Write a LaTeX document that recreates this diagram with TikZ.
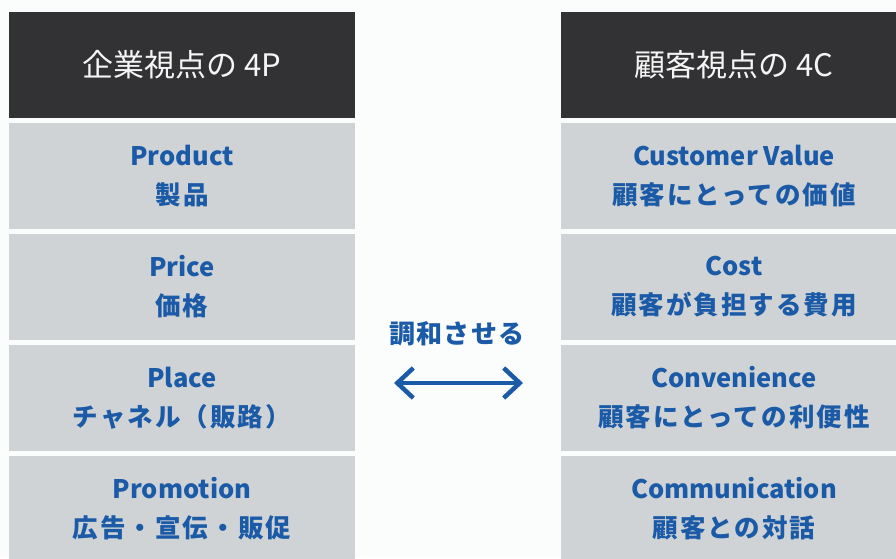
\documentclass[tikz,border=0pt]{standalone}
\usepackage{fontspec}
\setmainfont{Noto Sans CJK JP}
\usetikzlibrary{arrows.meta}
\definecolor{bg}{HTML}{FBFCFC}
\definecolor{hdr}{HTML}{323234}
\definecolor{cell}{HTML}{CFD3D5}
\definecolor{ink}{HTML}{1A5AA6}
\definecolor{hdrtext}{HTML}{F4F4F4}
\newcommand{\jpline}[1]{{\addfontfeatures{LetterSpace=8}#1}}
\tikzset{
  hdrbox/.style={fill=hdr, text=hdrtext, minimum width=346pt, minimum height=106pt, inner sep=0pt,
    font=\fontsize{31}{36}\selectfont},
  cellbox/.style={fill=cell, text=ink, minimum width=346pt, minimum height=106pt, inner sep=0pt,
    align=center, font=\bfseries\fontsize{25.5}{39}\selectfont},
  midlabel/.style={text=ink, font=\bfseries\fontsize{26}{30}\selectfont, inner sep=0pt},
  bothway/.style={ink, line width=4.5pt, {Straight Barb[length=16pt,width=30pt]}-{Straight Barb[length=16pt,width=30pt]}}
}
\begin{document}
\begin{tikzpicture}[x=1pt,y=-1pt]
\useasboundingbox (0,0) rectangle (896,558);
\fill[bg] (0,0) rectangle (896,558);
% left column
\node[hdrbox] (h1) at (182,65) {企業視点の 4P};
\node[cellbox] (l1) at (182,176) {Product\\\jpline{製品}};
\node[cellbox] (l2) at (182,287) {Price\\\jpline{価格}};
\node[cellbox] (l3) at (182,398) {Place\\\jpline{チャネル（販路）}};
\node[cellbox] (l4) at (182,509) {Promotion\\\jpline{広告・宣伝・販促}};
% right column
\node[hdrbox] (h2) at (734,65) {顧客視点の 4C};
\node[cellbox] (r1) at (734,176) {Customer Value\\\jpline{顧客にとっての価値}};
\node[cellbox] (r2) at (734,287) {Cost\\\jpline{顧客が負担する費用}};
\node[cellbox] (r3) at (734,398) {Convenience\\\jpline{顧客にとっての利便性}};
\node[cellbox] (r4) at (734,509) {Communication\\\jpline{顧客との対話}};
% middle
\node[midlabel] (mid) at (457,334) {{\addfontfeatures{LetterSpace=5}調和させる}};
\coordinate (aL) at (394,383);
\coordinate (aR) at (523,383);
\draw[bothway] (aL) -- (aR);
\end{tikzpicture}
\end{document}
